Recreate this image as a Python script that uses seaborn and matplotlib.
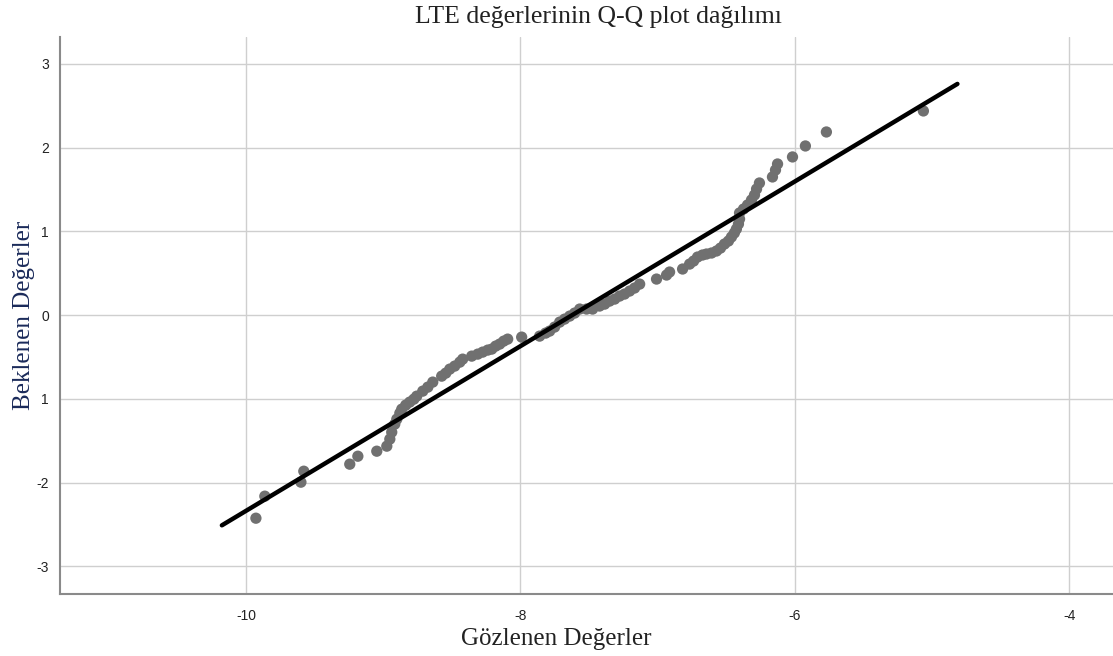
import numpy as np
import pandas as pd
import matplotlib
matplotlib.use("Agg")
import matplotlib.pyplot as plt
import seaborn as sns

# Observed values (x) and expected normal values (y)
observed = [-9.927, -9.862, -9.599, -9.578, -9.243, -9.184, -9.046, -8.973, -8.951, -8.937,
            -8.915, -8.900, -8.878, -8.864, -8.835, -8.806, -8.776, -8.755, -8.711, -8.674,
            -8.638, -8.573, -8.543, -8.514, -8.478, -8.441, -8.420, -8.354, -8.310, -8.274,
            -8.237, -8.208, -8.179, -8.150, -8.121, -8.092, -7.990, -7.859, -7.815, -7.786,
            -7.750, -7.713, -7.677, -7.640, -7.604, -7.567, -7.517, -7.473, -7.422, -7.385,
            -7.349, -7.312, -7.276, -7.240, -7.203, -7.167, -7.130, -7.007, -6.934, -6.912,
            -6.817, -6.766, -6.737, -6.708, -6.672, -6.643, -6.606, -6.570, -6.541, -6.512,
            -6.483, -6.461, -6.440, -6.425, -6.410, -6.402, -6.402, -6.373, -6.344, -6.315,
            -6.293, -6.278, -6.257, -6.162, -6.140, -6.125, -6.016, -5.922, -5.769, -5.062]
expected = [-2.425, -2.162, -1.995, -1.864, -1.780, -1.685, -1.625, -1.565, -1.481, -1.398,
            -1.302, -1.242, -1.171, -1.123, -1.075, -1.039, -1.004, -0.968, -0.908, -0.860,
            -0.800, -0.729, -0.693, -0.645, -0.609, -0.562, -0.526, -0.490, -0.466, -0.442,
            -0.418, -0.406, -0.370, -0.346, -0.311, -0.287, -0.263, -0.251, -0.215, -0.191,
            -0.143, -0.084, -0.048, -0.012, 0.024, 0.072, 0.072, 0.072, 0.108, 0.131,
            0.167, 0.191, 0.227, 0.251, 0.287, 0.323, 0.370, 0.430, 0.478, 0.514,
            0.550, 0.609, 0.645, 0.693, 0.717, 0.729, 0.741, 0.765, 0.800, 0.848,
            0.884, 0.932, 0.980, 1.027, 1.087, 1.147, 1.219, 1.266, 1.314, 1.374,
            1.434, 1.505, 1.577, 1.649, 1.732, 1.804, 1.888, 2.019, 2.186, 2.437]

# Reference line endpoints
line_x = [-10.175, -4.814]
line_y = [-2.51, 2.76]

x_ticks = [-10, -8, -6, -4]
x_tick_labels = ["-10", "-8", "-6", "-4"]
y_ticks = [-3, -2, -1, 0, 1, 2, 3]
y_tick_labels = ["-3", "-2", "1", "0", "1", "2", "3"]

title = "LTE değerlerinin Q-Q plot dağılımı"
xlabel = "Gözlenen Değerler"
ylabel = "Beklenen Değerler"

sns.set_theme(style="white")
plt.rcParams['font.family'] = ['Liberation Serif', 'DejaVu Serif']

fig = plt.figure(figsize=(11.13, 6.56), dpi=100)
ax = fig.add_axes([0.0539, 0.0945, 0.9461, 0.8491])

df = pd.DataFrame({"obs": observed, "exp": expected})
sns.scatterplot(data=df, x="obs", y="exp", ax=ax, color="#707070", s=66,
                edgecolor="none", linewidth=0, zorder=3)
sns.lineplot(x=line_x, y=line_y, ax=ax, color="black", linewidth=3.2, zorder=4)

ax.set_xlim(-11.355, -3.68)
ax.set_ylim(-3.33, 3.32)
ax.set_xticks(x_ticks)
ax.set_xticklabels(x_tick_labels)
ax.set_yticks(y_ticks)
ax.set_yticklabels(y_tick_labels)
ax.tick_params(axis='both', length=0, labelsize=10, colors='#222222')
for lab in ax.get_xticklabels() + ax.get_yticklabels():
    lab.set_fontfamily(['Liberation Sans Narrow', 'Liberation Sans', 'DejaVu Sans'])
ax.tick_params(axis='x', pad=11)
ax.tick_params(axis='y', pad=8)

ax.grid(True, color="#cfcfcf", linewidth=1.0, zorder=0)
ax.set_axisbelow(True)
for s in ["top", "right"]:
    ax.spines[s].set_visible(False)
for s in ["left", "bottom"]:
    ax.spines[s].set_color("#8a8a8a")
    ax.spines[s].set_linewidth(1.5)

ax.set_xlabel(xlabel, fontsize=18, color="#222222")
ax.set_ylabel(ylabel, fontsize=18, color="#1a2a5a")
ax.xaxis.set_label_coords(0.471, -0.061)
ax.yaxis.set_label_coords(-0.024, 0.5)
fig.text(0.538, 0.974, title, ha="center", va="center", fontsize=18.5, color="#222222")

fig.savefig("out.png", dpi=100)
